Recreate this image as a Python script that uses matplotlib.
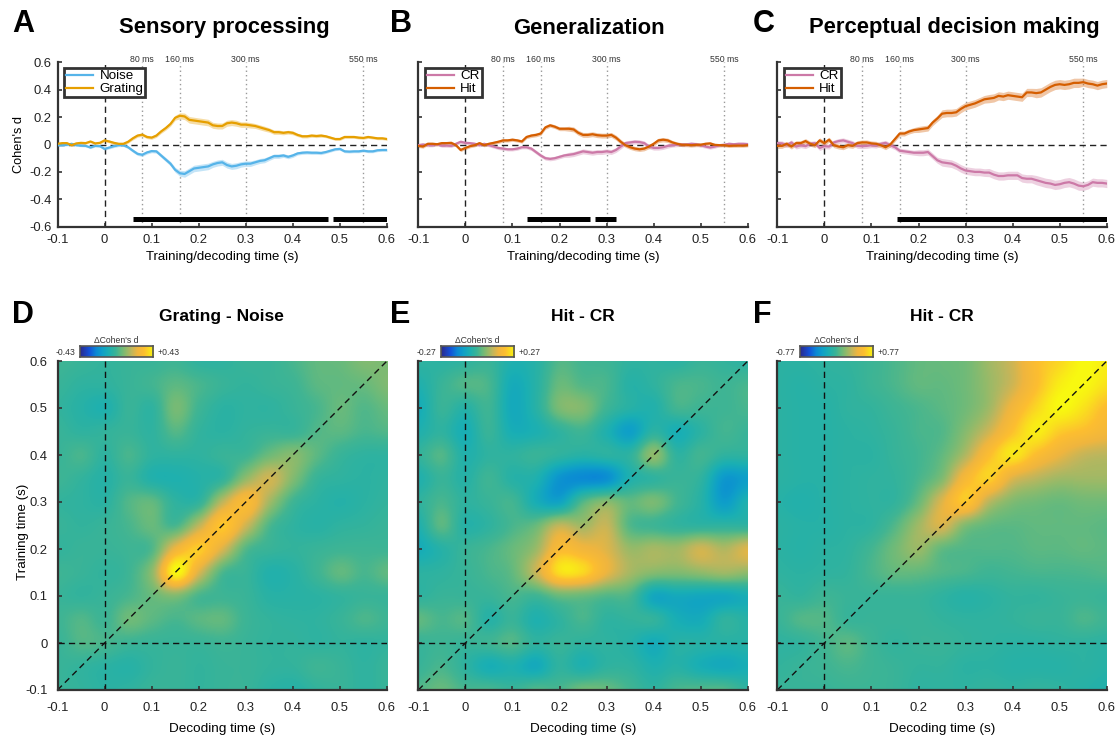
import numpy as np
import matplotlib
matplotlib.use('Agg')
import matplotlib.pyplot as plt
from matplotlib.colors import LinearSegmentedColormap

plt.rcParams['font.family'] = ['Liberation Sans', 'DejaVu Sans']

W, H = 1118, 740
times = [round(-0.1 + 0.01 * i, 2) for i in range(71)]
grid_ticks = [round(-0.1 + 0.05 * i, 2) for i in range(15)]

grating = [.005,.01,.01,-.005,.008,.012,.01,.022,.008,.012,.03,.022,.012,.005,.005,.02,.045,.065,.072,.055,.05,.065,.095,.12,.15,.195,.21,.205,.18,.175,.17,.165,.16,.14,.135,.135,.155,.16,.155,.145,.145,.14,.135,.125,.115,.105,.09,.09,.085,.09,.085,.07,.06,.06,.065,.062,.065,.06,.05,.04,.04,.055,.055,.055,.05,.048,.055,.05,.045,.045,.04]
noise = [-.005,-.005,-.002,.005,-.005,-.008,-.01,-.022,-.01,-.012,-.032,-.022,-.012,-.005,-.005,-.02,-.045,-.068,-.075,-.058,-.048,-.05,-.08,-.11,-.14,-.185,-.21,-.215,-.195,-.175,-.17,-.165,-.16,-.145,-.135,-.13,-.15,-.16,-.155,-.145,-.14,-.14,-.13,-.12,-.115,-.1,-.085,-.085,-.08,-.09,-.08,-.065,-.06,-.058,-.06,-.06,-.062,-.055,-.045,-.035,-.032,-.05,-.052,-.05,-.05,-.045,-.05,-.05,-.042,-.04,-.04]
band_a = [.008,.008,.008,.008,.008,.008,.008,.008,.008,.008,.01,.01,.01,.01,.01,.01,.012,.012,.012,.012,.012,.013,.014,.015,.016,.018,.022,.024,.024,.024,.024,.024,.024,.022,.022,.022,.022,.022,.022,.02,.02,.02,.018,.018,.018,.016,.016,.016,.014,.014,.014,.012,.012,.012,.012,.012,.012,.01,.01,.01,.01,.01,.01,.01,.01,.01,.01,.01,.01,.01,.01]

hit_b = [-.01,-.015,.005,.005,.002,.01,.01,.012,-.005,-.04,-.025,-.012,-.005,.01,-.005,.005,.012,.02,.03,.03,.035,.03,.022,.055,.065,.07,.08,.125,.14,.13,.115,.115,.115,.11,.085,.07,.07,.075,.068,.065,.065,.07,.05,.02,-.005,-.02,-.03,-.035,-.03,-.015,.005,.03,.035,.03,.015,.005,-.002,-.002,-.005,-.002,-.002,.005,.008,-.003,-.005,-.005,-.01,-.008,-.008,-.008,-.005]
cr_b = [-.005,0,-.005,-.005,.002,-.008,-.008,-.01,.005,.02,.012,.01,.005,-.005,.005,-.005,-.015,-.025,-.03,-.035,-.035,-.03,-.02,-.02,-.03,-.055,-.08,-.1,-.105,-.1,-.09,-.08,-.075,-.07,-.06,-.05,-.055,-.06,-.055,-.055,-.05,-.055,-.04,-.015,.01,.015,.02,.018,.01,-.015,-.025,-.025,-.02,-.01,-.005,-.002,0,0,.005,.002,-.005,-.015,-.022,-.015,-.005,-.002,.005,.002,.005,.005,.003]
band_b = [.012]*10 + [.012]*14 + [.014]*8 + [.018]*12 + [.016]*10 + [.014]*7 + [.012]*10

hit_c = [-.01,-.01,.005,-.015,.01,.01,.025,.005,-.005,.03,.01,.035,-.005,-.015,-.02,-.005,-.01,.01,.015,.015,.008,.005,-.005,-.02,0,.04,.08,.08,.095,.105,.11,.115,.12,.16,.19,.225,.23,.23,.235,.26,.28,.29,.3,.315,.33,.335,.34,.355,.35,.36,.355,.35,.345,.38,.38,.375,.38,.4,.42,.435,.44,.435,.44,.45,.45,.455,.445,.44,.43,.44,.445]
cr_c = [.01,.008,-.005,.015,-.015,-.005,-.012,.005,.01,-.025,-.012,-.015,.015,.025,.03,.02,.01,-.01,-.012,-.01,-.005,-.008,.005,.012,-.005,-.02,-.045,-.05,-.055,-.06,-.06,-.06,-.055,-.085,-.115,-.13,-.135,-.14,-.155,-.175,-.19,-.195,-.2,-.2,-.205,-.205,-.22,-.23,-.23,-.225,-.225,-.225,-.245,-.25,-.25,-.26,-.27,-.28,-.285,-.295,-.29,-.28,-.275,-.285,-.3,-.305,-.295,-.275,-.28,-.28,-.285]
band_c = [.018]*25 + [.018]*5 + [.022]*5 + [.028]*10 + [.03]*10 + [.034]*10 + [.03]*6

heat_d = [
 [-.02,-.05,-.08,-.05,-.05,-.02,-.1,-.1,-.05,-.05,.02,.1,.12,.2,.18],
 [-.05,-.1,-.1,-.05,0,.08,.02,-.05,-.08,-.05,-.02,.08,.1,.12,.2],
 [-.08,-.15,-.2,-.05,-.1,.17,-.02,-.12,-.1,-.1,-.05,.02,.12,.05,.12],
 [-.05,-.1,-.08,-.05,-.1,.06,-.08,-.12,-.08,-.05,-.05,.05,.08,.02,.05],
 [-.05,.02,-.1,.02,-.1,-.1,-.1,-.05,-.02,.14,.22,.08,-.05,-.1,-.1],
 [-.02,-.08,-.15,-.05,-.18,-.2,-.16,-.08,.26,.45,.2,-.05,-.1,-.12,-.1],
 [-.08,-.1,-.12,.05,.1,-.1,-.08,.4,.68,.3,-.02,-.12,-.16,-.12,-.08],
 [-.05,-.08,-.05,.02,.12,.02,.4,.78,.44,.03,-.1,-.14,-.1,-.08,-.05],
 [-.08,-.05,-.05,-.02,.05,.58,.8,.48,.05,-.05,-.08,-.05,-.02,-.02,-.02],
 [-.02,-.05,-.08,-.02,.25,1,.48,.03,-.05,-.18,-.14,-.02,.1,.02,.1],
 [-.05,-.08,-.05,.02,.12,.2,.02,-.02,-.05,-.14,-.14,-.12,-.08,-.05,-.05],
 [-.02,.05,-.02,.14,.08,.02,.08,.1,-.03,-.08,-.1,-.1,-.05,.03,-.02],
 [-.05,.05,.02,-.03,-.05,-.05,-.05,-.02,-.05,-.08,-.08,-.1,-.08,-.1,-.08],
 [-.05,-.08,-.12,-.15,-.08,-.05,-.08,-.05,-.05,-.08,-.08,-.02,-.05,-.1,-.05],
 [-.05,-.08,-.12,-.1,-.05,-.05,-.08,-.05,-.05,-.12,-.15,-.08,-.05,-.1,-.05],
]
heat_e = [
 [-.1,-.12,-.1,-.05,-.2,-.15,.05,0,-.02,-.1,-.1,-.12,-.05,-.08,-.12],
 [-.2,-.05,.05,.02,-.28,-.15,.12,.05,.02,-.15,-.1,.02,.02,-.02,.02],
 [-.28,-.05,-.15,-.02,-.3,-.15,.18,.2,-.02,-.15,-.18,0,-.02,-.02,.02],
 [-.2,-.1,-.25,-.05,-.25,-.22,-.1,-.02,-.2,-.4,-.12,-.25,-.12,0,-.05],
 [-.08,.05,-.18,-.1,-.1,-.05,-.1,-.15,-.12,-.1,.25,-.1,0,-.1,-.1],
 [-.2,-.05,-.15,-.02,-.15,-.2,-.48,-.55,-.52,-.2,-.1,-.05,-.1,-.45,-.4],
 [-.1,.02,-.1,-.05,0,-.25,-.36,.05,.22,.1,.18,0,-.15,-.42,-.2],
 [-.2,.08,-.15,-.1,.02,.12,.4,.3,.42,.05,-.02,-.08,-.1,-.1,-.1],
 [-.28,-.15,-.05,.02,.12,.28,.68,.6,.5,.28,.32,.3,.45,.35,.5],
 [-.12,-.1,-.05,.02,.1,.42,.88,.85,.55,.32,.22,.2,.25,.3,.25],
 [-.1,-.05,-.05,-.05,.02,-.02,.12,.12,.05,.02,-.32,-.3,-.32,-.32,-.25],
 [.1,.02,.05,-.15,-.05,-.2,-.1,.02,-.1,-.08,-.08,-.25,-.28,-.1,-.15],
 [-.05,-.02,-.05,-.02,.05,-.1,-.05,-.1,-.1,-.15,-.28,-.15,-.15,-.15,-.15],
 [-.05,.02,-.1,-.25,-.2,-.3,-.1,-.2,-.1,-.1,-.2,-.15,-.25,-.3,-.25],
 [.05,.12,.02,.02,-.05,.05,.02,.15,.12,0,-.1,.02,.05,.05,-.1],
]
heat_f = [
 [-.12,-.12,-.1,-.08,-.03,.03,.1,.12,.15,.3,.45,.72,.85,1,.95],
 [-.12,-.15,-.12,-.1,-.03,.03,.1,.1,.15,.28,.45,.72,.95,1,.9],
 [-.12,-.15,-.15,-.1,-.08,-.02,.03,.08,.15,.3,.6,.85,1,.9,.72],
 [-.12,-.15,-.15,-.12,-.1,-.05,.02,.05,.22,.45,.75,.95,.8,.72,.62],
 [-.12,-.15,-.15,-.12,-.12,-.06,0,.1,.35,.72,.92,.72,.55,.42,.38],
 [-.12,-.15,-.15,-.12,-.1,-.08,.02,.2,.65,.82,.5,.38,.3,.3,.3],
 [-.15,-.18,-.15,-.12,-.1,-.08,.12,.5,.78,.38,.2,.15,.12,.15,.15],
 [-.12,-.15,-.15,-.12,-.1,.05,.3,.48,.2,.1,.08,.1,.1,.1,.08],
 [-.12,-.15,-.12,-.1,0,.15,.28,.1,.05,.05,.05,.08,.08,.1,.08],
 [-.1,-.12,-.1,-.08,.02,.1,.1,.05,.02,-.02,0,.02,.02,.03,.05],
 [-.05,-.08,-.02,-.05,-.05,-.05,-.05,-.1,-.15,-.12,-.08,-.08,-.05,-.03,-.05],
 [-.05,.05,.05,-.05,-.05,-.05,-.05,-.08,-.1,-.1,-.08,-.05,-.05,.03,-.02],
 [-.1,-.08,0,.08,-.02,-.08,-.05,-.05,-.08,-.1,-.12,-.12,-.1,-.1,-.12],
 [-.08,-.05,-.02,.02,-.02,-.05,-.08,-.08,-.12,-.12,-.15,-.15,-.15,-.12,-.15],
 [-.05,-.05,-.05,-.03,-.03,-.05,-.1,-.1,-.1,-.08,-.1,-.08,-.1,-.15,-.18],
]

scale_labels = [('-0.43', '+0.43'), ('-0.27', '+0.27'), ('-0.77', '+0.77')]
line_titles = ['Sensory processing', 'Generalization', 'Perceptual decision making']
heat_titles = ['Grating - Noise', 'Hit - CR', 'Hit - CR']
line_letters = ['A', 'B', 'C']
heat_letters = ['D', 'E', 'F']
line_series = [
    (('Noise', noise, '#56b4e9'), ('Grating', grating, '#e69f00'), band_a),
    (('CR', cr_b, '#cc79a7'), ('Hit', hit_b, '#d55e00'), band_b),
    (('CR', cr_c, '#cc79a7'), ('Hit', hit_c, '#d55e00'), band_c),
]
sig_spans = [[(.06, .475), (.485, .6)], [(.13, .265), (.275, .32)], [(.155, .6)]]
marker_ms = [.08, .16, .3, .55]
marker_txt = ['80 ms', '160 ms', '300 ms', '550 ms']

parula = LinearSegmentedColormap.from_list('par', [
    (0, '#2b2a8c'), (.12, '#1450d8'), (.22, '#0b8ad4'), (.3, '#0fa0c8'), (.38, '#1aafb4'),
    (.44, '#2cb2a2'), (.5, '#42b592'), (.56, '#68ba7c'), (.62, '#8cbb6c'), (.7, '#c0b65c'),
    (.78, '#efb53f'), (.87, '#fdbe30'), (1, '#f8f810')])

fig = plt.figure(figsize=(W / 100, H / 100), dpi=100)
DARK = '#333333'
lefts = [57.5, 418.3, 777.3]
pw = 329.5

def box(x0, y0, x1, y1):
    return [x0 / W, 1 - y1 / H, (x1 - x0) / W, (y1 - y0) / H]

def style(ax, show_y, yticks, xpad, ypad):
    for s in ('top', 'right'):
        ax.spines[s].set_visible(False)
    for s in ('left', 'bottom'):
        ax.spines[s].set_linewidth(1.6)
        ax.spines[s].set_color(DARK)
    ax.set_xticks([-.1, 0, .1, .2, .3, .4, .5, .6])
    ax.set_xticklabels(['-0.1', '0', '0.1', '0.2', '0.3', '0.4', '0.5', '0.6'])
    ax.set_yticks(yticks)
    ax.tick_params(direction='in', length=3.2, width=1.2, color=DARK, labelsize=9.4,
                   labelcolor='#222222', top=False, right=False)
    ax.tick_params(axis='x', pad=xpad)
    ax.tick_params(axis='y', pad=ypad)
    if not show_y:
        ax.set_yticklabels([])

for i in range(3):
    l = lefts[i]
    ax = fig.add_axes(box(l, 62.3, l + pw, 226.7))
    ax.set_xlim(-.1, .6)
    ax.set_ylim(-.6, .6)
    first, second, band = line_series[i]
    for m, t in zip(marker_ms, marker_txt):
        ax.axvline(m, color='#999999', ls=(0, (1, 2.2)), lw=1)
        ax.text(m, .585, t, ha='center', va='bottom', fontsize=6.3, color='#333333')
    ax.axhline(0, color='#222222', ls=(0, (4.5, 3)), lw=1)
    ax.axvline(0, color='#222222', ls=(0, (4.5, 3)), lw=1)
    for name, ys, c in (first, second):
        ys = np.array(ys)
        b = np.array(band)
        ax.fill_between(times, ys - b, ys + b, color=c, alpha=.35, lw=0, zorder=3)
        ax.plot(times, ys, color=c, lw=1.6, label=name, zorder=4)
    for a, b in sig_spans[i]:
        ax.plot([a, b], [-.545, -.545], color='black', lw=3.6, solid_capstyle='butt', zorder=5)
    style(ax, i == 0, [-.6, -.4, -.2, 0, .2, .4, .6], 5.5, 4.5)
    if i == 0:
        ax.set_yticklabels(['-0.6', '-0.4', '-0.2', '0', '0.2', '0.4', '0.6'])
        ax.set_ylabel("Cohen's d", fontsize=9.2, labelpad=3)
    ax.set_xlabel('Training/decoding time (s)', fontsize=9.5, labelpad=3.5)
    leg = ax.legend(loc='upper left', bbox_to_anchor=(.02, .965), fontsize=9.6, frameon=True,
                    fancybox=False, edgecolor=DARK, framealpha=1, borderpad=.15, labelspacing=.05,
                    handlelength=2.0, handletextpad=.5, borderaxespad=0)
    leg.get_frame().set_linewidth(2)
    leg.set_zorder(6)
    fig.text([224, 589, 954][i] / W, 1 - 28 / H, line_titles[i], ha='center', va='center',
             fontsize=15.8, fontweight='bold')
    fig.text([12, 390, 753][i] / W, 1 - 24 / H, line_letters[i], ha='left', va='center',
             fontsize=22, fontweight='bold')

    axh = fig.add_axes(box(l, 361, l + pw, 690))
    data = np.array([heat_d, heat_e, heat_f][i])
    axh.imshow(data, cmap=parula, vmin=-1, vmax=1, interpolation='catrom', aspect='auto',
               extent=(grid_ticks[0] - .025, grid_ticks[-1] + .025, grid_ticks[0] - .025, grid_ticks[-1] + .025))
    axh.set_xlim(-.1, .6)
    axh.set_ylim(-.1, .6)
    axh.axhline(0, color='#111111', ls=(0, (4.5, 3)), lw=1)
    axh.axvline(0, color='#111111', ls=(0, (4.5, 3)), lw=1)
    axh.plot([-.1, .6], [-.1, .6], color='#111111', ls=(0, (4.5, 3)), lw=1)
    style(axh, i == 0, [-.1, 0, .1, .2, .3, .4, .5, .6], 8.5, 7)
    if i == 0:
        axh.set_yticklabels(['-0.1', '0', '0.1', '0.2', '0.3', '0.4', '0.5', '0.6'])
        axh.set_ylabel('Training time (s)', fontsize=9.6, labelpad=-2.5, y=.48)
    axh.set_xlabel('Decoding time (s)', fontsize=9.7, labelpad=6.5)
    fig.text([221.5, 582.5, 942][i] / W, 1 - 317 / H, heat_titles[i], ha='center', va='center',
             fontsize=12.5, fontweight='bold')
    fig.text([12, 390, 753][i] / W, 1 - 314.5 / H, heat_letters[i], ha='left', va='center',
             fontsize=22, fontweight='bold')

    cax = fig.add_axes(box(l + 22.5, 346, l + 96, 357))
    cax.imshow(np.linspace(0, 1, 128)[None, :], cmap=parula, aspect='auto', extent=(0, 1, 0, 1))
    cax.set_xticks([])
    cax.set_yticks([])
    for s in cax.spines.values():
        s.set_color('#555555')
        s.set_linewidth(1.2)
    lo, hi = scale_labels[i]
    cax.text(-.06, .45, lo, transform=cax.transAxes, ha='right', va='center', fontsize=6.2, color='#333333')
    cax.text(1.06, .45, hi, transform=cax.transAxes, ha='left', va='center', fontsize=6.2, color='#333333')
    cax.text(.5, 1.08, "\u0394Cohen's d", transform=cax.transAxes, ha='center', va='bottom', fontsize=6.2, color='#333333')

fig.savefig('out.png', dpi=100)
